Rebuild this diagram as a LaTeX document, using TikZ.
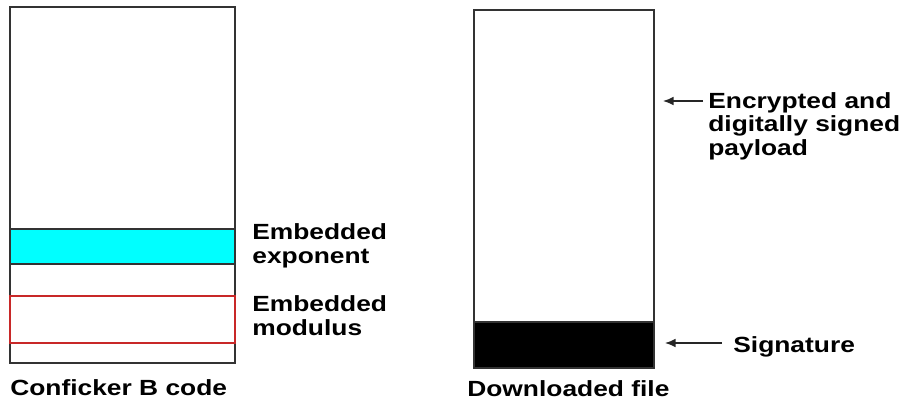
\documentclass[tikz,border=0pt]{standalone}
\usepackage{fontspec}
\setmainfont[FakeStretch=1.2]{Liberation Sans}
\usepackage{tikz}
\usetikzlibrary{arrows.meta}

\definecolor{bandcyan}{RGB}{0,255,255}
\definecolor{bandred}{RGB}{200,40,40}

\tikzset{
  box/.style={draw=black!80, line width=1.1pt},
  lbl/.style={font=\bfseries\fontsize{12.5pt}{13.3pt}\selectfont, inner sep=0pt, align=left, anchor=base west},
  pointer/.style={-{Latex[length=6pt,width=5pt]}, line width=0.9pt, black!85}
}

\begin{document}
\begin{tikzpicture}[x=0.02cm, y=-0.02cm]
    \useasboundingbox (0,0) rectangle (899,400);

    % draw code box
    \draw[box] (10,7) rectangle (235,363);
    \draw[box, fill=bandcyan] (10,229) rectangle (235,264);
    \draw[draw=bandred, line width=0.7pt] (10,296) rectangle (235,343);

    % draw file box
    \draw[box] (474,10) rectangle (654,368);
    \draw[box, fill=black] (474,322) rectangle (654,368);

    % draw labels (base = last line)
    \node[lbl] (exponent) at (252,263) {Embedded\\exponent};
    \node[lbl] (modulus) at (252,335) {Embedded\\modulus};
    \node[lbl] (code) at (10,395) {Conficker B code};
    \node[lbl] (file) at (467,396) {Downloaded file};
    \node[lbl] (payload) at (708,155) {Encrypted and\\digitally signed\\payload};
    \node[lbl] (signature) at (733,352) {Signature};

    % draw pointers
    \coordinate (payloadtip) at (663,101);
    \coordinate (signaturetip) at (665,343);
    \draw[pointer] (payload.west |- payloadtip) ++(-5,0) -- (payloadtip);
    \draw[pointer] (signature.west |- signaturetip) ++(-11,0) -- (signaturetip);
\end{tikzpicture}
\end{document}
